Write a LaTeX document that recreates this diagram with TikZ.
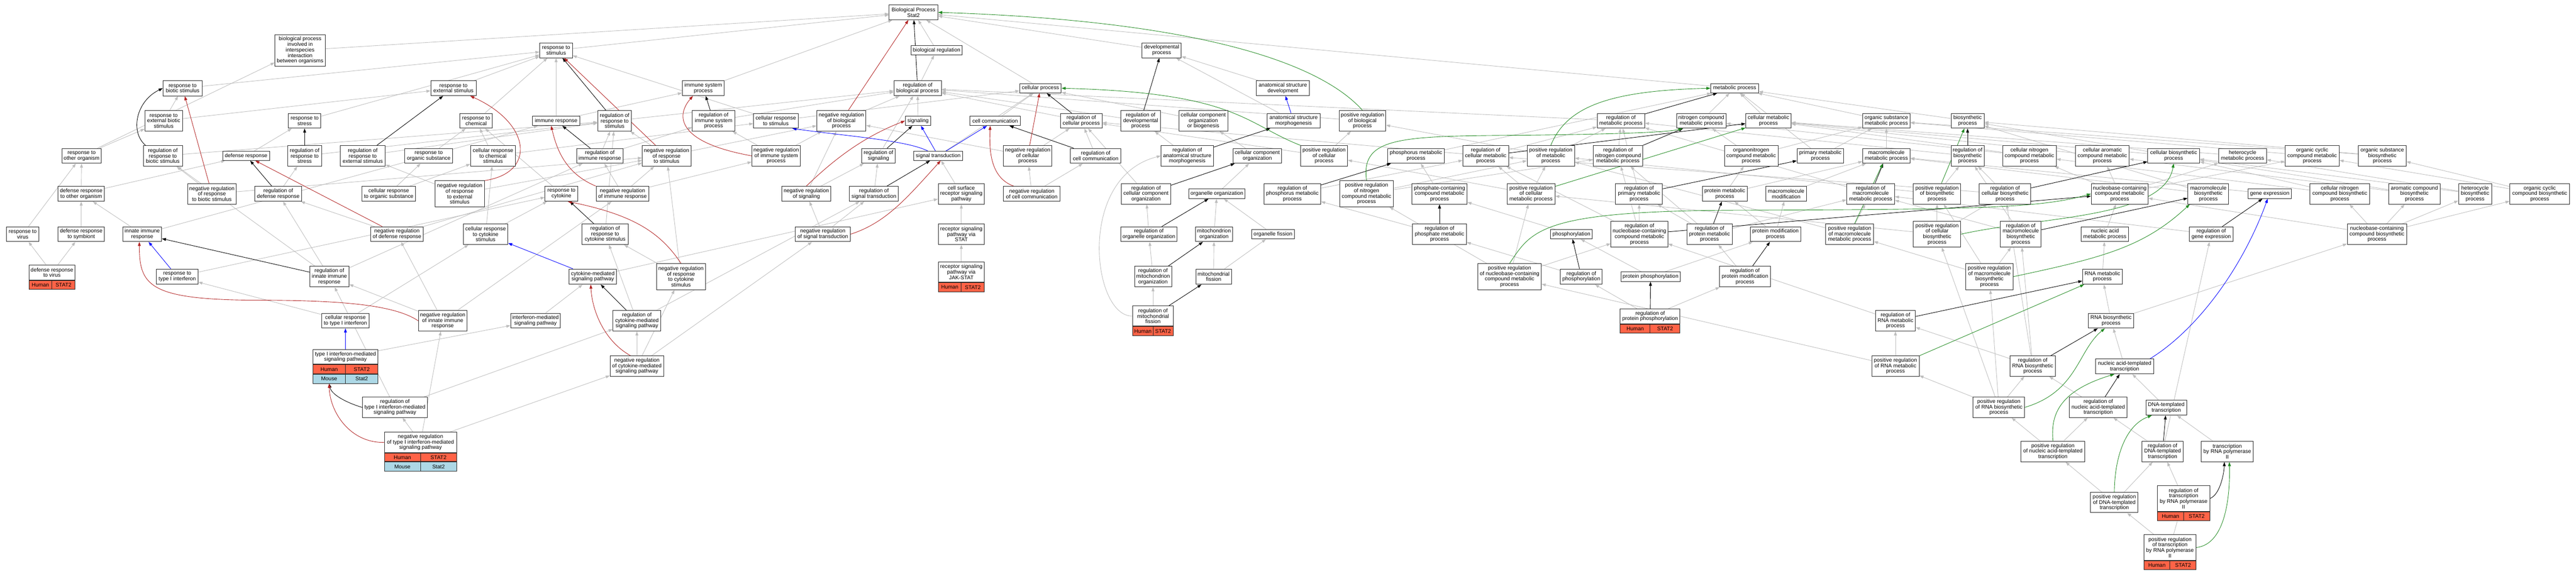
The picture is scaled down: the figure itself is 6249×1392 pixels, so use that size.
\documentclass[tikz,border=0pt]{standalone}
\usepackage{fontspec}
\setmainfont{Liberation Sans}
\usetikzlibrary{arrows.meta}
\definecolor{edgegray}{RGB}{190,190,190}
\definecolor{negred}{RGB}{178,34,34}
\definecolor{posgreen}{RGB}{34,139,34}
\definecolor{partblue}{RGB}{0,0,255}
\definecolor{tomatoc}{RGB}{255,99,71}
\definecolor{lblue}{RGB}{173,216,230}
\pgfdeclarelayer{bg}
\pgfsetlayers{bg,main}
\newcommand\gofont{\fontsize{13}{13.4}\selectfont}
\tikzset{
 gobox/.style={draw=black!85,line width=1.2pt,fill=white,align=center,font=\gofont,inner sep=2pt},
 gocell/.style={draw=black!85,line width=1.2pt,align=center,font=\gofont,inner sep=1pt},
 tipstyle/.style={-{Triangle[length=10pt,width=7pt]}},
 isa/.style={draw=edgegray,line width=1.1pt,tipstyle},
 regl/.style={draw=black,line width=1.1pt,tipstyle},
 negl/.style={draw=negred,line width=1.1pt,tipstyle},
 posl/.style={draw=posgreen,line width=1.1pt,tipstyle},
 partl/.style={draw=partblue,line width=1.1pt,tipstyle}
}
\newcommand\GN[6]{\node[gobox,minimum width=#4pt,minimum height=#5pt] (#1) at (#2,#3) {#6};}
\newcommand\GRow[8]{%
 \node[gocell,fill=#6,minimum width=#4pt,minimum height=#5pt,anchor=north west] (#3a) at (#1.south west) {#7};%
 \node[gocell,fill=#6,minimum width=#4pt,minimum height=#5pt,anchor=north east] (#3b) at (#2.south east) {#8};}
\begin{document}
\begin{tikzpicture}[x=1pt,y=-1pt]
\begin{pgfonlayer}{bg}
\fill[white] (0,0) rectangle (6249,1392);
\end{pgfonlayer}
\useasboundingbox (0,0) rectangle (6249,1392);
% row 30
\GN{root}{2216}{30}{118}{36}{Biological Process\\Stat2}
% row 122
\GN{bpint}{728}{122}{122}{76}{biological process\\involved in\\interspecies\\interaction\\between organisms}
\GN{rstim}{1349}{122}{79}{36}{response to\\stimulus}
\GN{bioreg}{2272}{122}{124}{23}{biological regulation}
\GN{devproc}{2818}{122}{95}{36}{developmental\\process}
% row 214
\GN{rbs}{443}{214}{95}{37}{response to\\biotic stimulus}
\GN{rext}{1100}{214}{110}{36}{response to\\external stimulus}
\GN{immsys}{1706}{214}{102}{36}{immune system\\process}
\GN{rbp}{2226}{214}{115}{36}{regulation of\\biological process}
\GN{cellproc}{2524}{214}{101}{23}{cellular process}
\GN{anatdev}{3112}{214}{128}{36}{anatomical structure\\development}
\GN{metproc}{4208}{214}{116}{23}{metabolic process}
% row 293
\GN{rebs}{397}{293}{91}{50}{response to\\external biotic\\stimulus}
\GN{rstress}{739}{293}{79}{36}{response to\\stress}
\GN{rchem}{1155}{293}{79}{36}{response to\\chemical}
\GN{immresp}{1349}{293}{114}{23}{immune response}
\GN{rrstim}{1491}{293}{82}{50}{regulation of\\response to\\stimulus}
\GN{rimmsys}{1731}{293}{103}{50}{regulation of\\immune system\\process}
\GN{crstim}{1882}{293}{108}{36}{cellular response\\to stimulus}
\GN{nrbp}{2041}{293}{119}{50}{negative regulation\\of biological\\process}
\GN{signaling}{2227}{293}{62}{23}{signaling}
\GN{cellcomm}{2414}{293}{123}{23}{cell communication}
\GN{rcp}{2623}{293}{101}{36}{regulation of\\cellular process}
\GN{rdev}{2767}{293}{95}{50}{regulation of\\developmental\\process}
\GN{ccob}{2919}{293}{119}{50}{cellular component\\organization\\or biogenesis}
\GN{asm}{3138}{293}{128}{36}{anatomical structure\\morphogenesis}
\GN{prbp}{3305}{293}{113}{50}{positive regulation\\of biological\\process}
\GN{rmp}{3932}{293}{115}{36}{regulation of\\metabolic process}
\GN{ncmp}{4127}{293}{120}{36}{nitrogen compound\\metabolic process}
\GN{cellmet}{4290}{293}{110}{36}{cellular metabolic\\process}
\GN{osmp}{4576}{293}{115}{36}{organic substance\\metabolic process}
\GN{biosyn}{4773}{293}{80}{36}{biosynthetic\\process}
% row 378
\GN{roo}{198}{378}{96}{36}{response to\\other organism}
\GN{rrbs}{395}{378}{95}{50}{regulation of\\response to\\biotic stimulus}
\GN{defresp}{597}{378}{114}{22}{defense response}
\GN{rrstress}{739}{378}{82}{50}{regulation of\\response to\\stress}
\GN{rrext}{880}{378}{109}{50}{regulation of\\response to\\external stimulus}
\GN{ros}{1040}{378}{117}{36}{response to\\organic substance}
\GN{crchem}{1196}{378}{109}{50}{cellular response\\to chemical\\stimulus}
\GN{rimmresp}{1455}{378}{112}{36}{regulation of\\immune response}
\GN{nrrstim}{1617}{378}{118}{50}{negative regulation\\of response\\to stimulus}
\GN{nrimmsys}{1883}{378}{118}{50}{negative regulation\\of immune system\\process}
\GN{regsig}{2131}{378}{82}{36}{regulation of\\signaling}
\GN{sigtrans}{2276}{378}{119}{22}{signal transduction}
\GN{nrcp}{2493}{378}{118}{50}{negative regulation\\of cellular\\process}
\GN{rcc}{2658}{378}{122}{36}{regulation of\\cell communication}
\GN{rasm}{2880}{378}{127}{50}{regulation of\\anatomical structure\\morphogenesis}
\GN{cco}{3050}{378}{118}{36}{cellular component\\organization}
\GN{prcp}{3212}{378}{114}{50}{positive regulation\\of cellular\\process}
\GN{phosmet}{3435}{378}{137}{36}{phosphorus metabolic\\process}
\GN{rcmp}{3604}{378}{111}{50}{regulation of\\cellular metabolic\\process}
\GN{prmp}{3762}{378}{115}{50}{positive regulation\\of metabolic\\process}
\GN{rncmp}{3925}{378}{120}{50}{regulation of\\nitrogen compound\\metabolic process}
\GN{oncmp}{4248}{378}{130}{50}{organonitrogen\\compound metabolic\\process}
\GN{primmet}{4416}{378}{113}{36}{primary metabolic\\process}
\GN{macromet}{4576}{378}{115}{36}{macromolecule\\metabolic process}
\GN{rbiosyn}{4773}{378}{80}{50}{regulation of\\biosynthetic\\process}
\GN{cncmp}{4923}{378}{130}{50}{cellular nitrogen\\compound metabolic\\process}
\GN{cacmp}{5100}{378}{130}{50}{cellular aromatic\\compound metabolic\\process}
\GN{cellbiosyn}{5273}{378}{126}{36}{cellular biosynthetic\\process}
\GN{hetmet}{5440}{378}{116}{36}{heterocycle\\metabolic process}
\GN{occmp}{5609}{378}{131}{50}{organic cyclic\\compound metabolic\\process}
\GN{osbio}{5779}{378}{116}{50}{organic substance\\biosynthetic\\process}
% row 470
\GN{droo}{197}{470}{113}{36}{defense response\\to other organism}
\GN{nrrbs}{514}{470}{118}{50}{negative regulation\\of response\\to biotic stimulus}
\GN{rdr}{675}{470}{113}{36}{regulation of\\defense response}
\GN{cros}{943}{470}{130}{36}{cellular response\\to organic substance}
\GN{nrrext}{1115}{470}{120}{63}{negative regulation\\of response\\to external\\stimulus}
\GN{rcyt}{1362}{470}{80}{36}{response to\\cytokine}
\GN{nrimmresp}{1510}{470}{128}{36}{negative regulation\\of immune response}
\GN{nrsig}{1956}{470}{119}{36}{negative regulation\\of signaling}
\GN{rst}{2120}{470}{119}{36}{regulation of\\signal transduction}
\GN{csrsp}{2332}{470}{112}{50}{cell surface\\receptor signaling\\pathway}
\GN{nrcc}{2503}{470}{137}{36}{negative regulation\\of cell communication}
\GN{rcco}{2780}{470}{119}{50}{regulation of\\cellular component\\organization}
\GN{orgorg}{2952}{470}{137}{23}{organelle organization}
\GN{rphosmet}{3135}{470}{138}{50}{regulation of\\phosphorus metabolic\\process}
\GN{prncmp}{3315}{470}{131}{63}{positive regulation\\of nitrogen\\compound metabolic\\process}
\GN{phcmp}{3492}{470}{134}{50}{phosphate-containing\\compound metabolic\\process}
\GN{prcmp}{3714}{470}{116}{50}{positive regulation\\of cellular\\metabolic process}
\GN{rpmp}{3976}{470}{114}{50}{regulation of\\primary metabolic\\process}
\GN{protmet}{4184}{470}{109}{36}{protein metabolic\\process}
\GN{macromod}{4333}{470}{98}{36}{macromolecule\\modification}
\GN{rmacromet}{4538}{470}{116}{50}{regulation of\\macromolecule\\metabolic process}
\GN{prbiosyn}{4699}{470}{115}{50}{positive regulation\\of biosynthetic\\process}
\GN{rcbiosyn}{4864}{470}{125}{50}{regulation of\\cellular biosynthetic\\process}
\GN{nbcmp}{5142}{470}{138}{50}{nucleobase-containing\\compound metabolic\\process}
\GN{macrobio}{5357}{470}{99}{50}{macromolecule\\biosynthetic\\process}
\GN{geneexp}{5506}{470}{105}{23}{gene expression}
\GN{cncbio}{5676}{470}{145}{50}{cellular nitrogen\\compound biosynthetic\\process}
\GN{acbio}{5857}{470}{124}{50}{aromatic compound\\biosynthetic\\process}
\GN{hetbio}{6004}{470}{80}{50}{heterocycle\\biosynthetic\\process}
\GN{occbio}{6161}{470}{145}{50}{organic cyclic\\compound biosynthetic\\process}
% row 568
\GN{rvirus}{55}{568}{79}{36}{response to\\virus}
\GN{drsym}{197}{568}{113}{36}{defense response\\to symbiont}
\GN{innate}{345}{568}{94}{36}{innate immune\\response}
\GN{nrdr}{963}{568}{128}{36}{negative regulation\\of defense response}
\GN{crcyt}{1178}{568}{108}{50}{cellular response\\to cytokine\\stimulus}
\GN{rrcyt}{1468}{568}{112}{50}{regulation of\\response to\\cytokine stimulus}
\GN{nrst}{1996}{568}{134}{36}{negative regulation\\of signal transduction}
\GN{rsstat}{2332}{568}{112}{50}{receptor signaling\\pathway via\\STAT}
\GN{roo2}{2787}{568}{136}{36}{regulation of\\organelle organization}
\GN{mitoorg}{2945}{568}{91}{36}{mitochondrion\\organization}
\GN{orgfis}{3088}{568}{104}{23}{organelle fission}
\GN{rphmp}{3492}{568}{131}{50}{regulation of\\phosphate metabolic\\process}
\GN{phosph}{3812}{568}{101}{23}{phosphorylation}
\GN{rnbcmp}{3977}{568}{138}{63}{regulation of\\nucleobase-containing\\compound metabolic\\process}
\GN{rprotmet}{4147}{568}{110}{50}{regulation of\\protein metabolic\\process}
\GN{protmod}{4307}{568}{123}{36}{protein modification\\process}
\GN{prmacromet}{4487}{568}{116}{50}{positive regulation\\of macromolecule\\metabolic process}
\GN{prcbiosyn}{4699}{568}{115}{63}{positive regulation\\of cellular\\biosynthetic\\process}
\GN{rmacrobio}{4902}{568}{99}{63}{regulation of\\macromolecule\\biosynthetic\\process}
\GN{nucmet}{5106}{568}{116}{36}{nucleic acid\\metabolic process}
\GN{rgeneexp}{5364}{568}{106}{36}{regulation of\\gene expression}
\GN{nbcbio}{5766}{568}{144}{50}{nucleobase-containing\\compound biosynthetic\\process}
% row 671
\GN{rtype1}{430}{671}{101}{37}{response to\\type I interferon}
\GN{rinnate}{799}{671}{95}{50}{regulation of\\innate immune\\response}
\GN{cytsp}{1438}{671}{115}{37}{cytokine-mediated\\signaling pathway}
\GN{nrrcyt}{1652}{671}{119}{63}{negative regulation\\of response\\to cytokine\\stimulus}
\GN{rmito}{2797}{671}{90}{50}{regulation of\\mitochondrion\\organization}
\GN{mitofis}{2944}{671}{86}{37}{mitochondrial\\fission}
\GN{prnbcmp}{3662}{671}{154}{63}{positive regulation\\of nucleobase-containing\\compound metabolic\\process}
\GN{rphos}{3836}{671}{101}{37}{regulation of\\phosphorylation}
\GN{protphos}{4004}{671}{144}{23}{protein phosphorylation}
\GN{rprotmod}{4233}{671}{123}{50}{regulation of\\protein modification\\process}
\GN{prmacrobio}{4826}{671}{115}{63}{positive regulation\\of macromolecule\\biosynthetic\\process}
\GN{rnamet}{5100}{671}{96}{37}{RNA metabolic\\process}
% gene boxes
\GN{drvirus}{126}{661}{112}{36}{defense response\\to virus}
\GRow{drvirus}{drvirus}{drvirush}{56}{21}{tomatoc}{Human}{STAT2}
\GN{rsjak}{2332}{659.5}{112}{49}{receptor signaling\\pathway via\\JAK-STAT}
\GRow{rsjak}{rsjak}{rsjakh}{56}{23}{tomatoc}{Human}{STAT2}
% row 778
\GN{crtype1}{838}{778}{116}{36}{cellular response\\to type I interferon}
\GN{nrinnate}{1074}{778}{118}{50}{negative regulation\\of innate immune\\response}
\GN{ifnsp}{1299}{778}{120}{36}{interferon-mediated\\signaling pathway}
\GN{rcytsp}{1545}{778}{116}{50}{regulation of\\cytokine-mediated\\signaling pathway}
\GN{rrnamet}{4598}{778}{97}{50}{regulation of\\RNA metabolic\\process}
\GN{rnabio}{5121}{778}{110}{36}{RNA biosynthetic\\process}
\GN{rmitofis}{2797}{766.5}{98}{49}{regulation of\\mitochondrial\\fission}
\GRow{rmitofis}{rmitofis}{rmitofish}{49}{22}{tomatoc}{Human}{STAT2}
\GN{rprotphos}{4003}{767}{145}{36}{regulation of\\protein phosphorylation}
\GRow{rprotphos}{rprotphos}{rprotphosh}{72.5}{21.5}{tomatoc}{Human}{STAT2}
% row 888
\GN{nrcytsp}{1545}{888}{130}{49}{negative regulation\\of cytokine-mediated\\signaling pathway}
\GN{prrnamet}{4598}{888}{115}{49}{positive regulation\\of RNA metabolic\\process}
\GN{rrnabio}{4931}{888}{110}{49}{regulation of\\RNA biosynthetic\\process}
\GN{natrans}{5154}{889}{141}{36}{nucleic acid-templated\\transcription}
\GN{type1}{838}{866}{158}{35}{type I interferon-mediated\\signaling pathway}
\GRow{type1}{type1}{type1h}{79}{22}{tomatoc}{Human}{STAT2}
\GRow{type1ha}{type1hb}{type1m}{79}{22}{lblue}{Mouse}{Stat2}
% row 988
\GN{rtype1sp}{958}{988}{158}{49}{regulation of\\type I interferon-mediated\\signaling pathway}
\GN{prrnabio}{4849}{988}{125}{49}{positive regulation\\of RNA biosynthetic\\process}
\GN{rnatrans}{5090}{988}{140}{49}{regulation of\\nucleic acid-templated\\transcription}
\GN{dnatrans}{5255}{989}{99}{36}{DNA-templated\\transcription}
\GN{nrtype1}{1020}{1073}{175}{49}{negative regulation\\of type I interferon-mediated\\signaling pathway}
\GRow{nrtype1}{nrtype1}{nrtype1h}{87.5}{21}{tomatoc}{Human}{STAT2}
\GRow{nrtype1ha}{nrtype1hb}{nrtype1m}{87.5}{21.5}{lblue}{Mouse}{Stat2}
% row 1095
\GN{prnatrans}{4980}{1095}{155}{50}{positive regulation\\of nucleic acid-templated\\transcription}
\GN{rdnatrans}{5246}{1095}{99}{50}{regulation of\\DNA-templated\\transcription}
\GN{trnap}{5403}{1095}{126}{50}{transcription\\by RNA polymerase\\II}
\GN{prdnatrans}{5129}{1219}{115}{49}{positive regulation\\of DNA-templated\\transcription}
\GN{rtrnap}{5297}{1209}{127}{63}{regulation of\\transcription\\by RNA polymerase\\II}
\GRow{rtrnap}{rtrnap}{rtrnaph}{63.5}{21}{tomatoc}{Human}{STAT2}
\GN{prtrnap}{5264}{1328}{127}{63}{positive regulation\\of transcription\\by RNA polymerase\\II}
\GRow{prtrnap}{prtrnap}{prtrnaph}{63.5}{21.5}{tomatoc}{Human}{STAT2}

\begin{pgfonlayer}{bg}
\foreach \a/\b in {bpint/root, rbs/rstim, rebs/rbs, rebs/rext, rstress/rstim, roo/bpint, roo/rebs,
 rrbs/rrstim, defresp/rstress, rrstress/rrstim, rrext/rrstim, ros/rchem, droo/roo, droo/defresp,
 nrrbs/rrbs, nrrbs/nrrstim, rdr/rrstress, cros/ros, cros/crchem, rvirus/roo, drsym/droo,
 innate/droo, innate/immresp, nrdr/rdr, nrdr/nrrstim, drvirus/rvirus, drvirus/drsym, rtype1/rcyt,
 rinnate/rdr, rinnate/rimmresp, rinnate/rrbs, crtype1/rtype1, crtype1/crcyt, type1/ifnsp,
 rtype1sp/rcytsp, rtype1sp/rinnate, nrtype1/rtype1sp, nrtype1/nrcytsp, nrtype1/nrinnate,
 nrinnate/rinnate, nrinnate/nrdr, nrinnate/nrimmresp, rstim/root, rext/rstim, immsys/root,
 rchem/rstim, immresp/rstim, immresp/immsys, rrstim/rbp, rimmsys/rbp, crstim/rstim, crstim/cellproc,
 nrbp/rbp, crchem/rchem, crchem/crstim, rimmresp/rrstim, rimmresp/rimmsys, nrrstim/rrstim,
 nrrstim/nrbp, nrimmsys/rimmsys, nrimmsys/nrbp, nrrext/rrext, nrrext/nrrstim, rcyt/rchem,
 nrimmresp/rimmresp, nrimmresp/nrrstim, nrimmresp/nrimmsys, nrsig/regsig, nrsig/nrbp, rst/regsig,
 nrst/rst, nrst/nrsig, crcyt/rcyt, crcyt/crchem, rrcyt/rrstim, cytsp/csrsp, nrrcyt/rrcyt,
 nrrcyt/nrrstim, ifnsp/cytsp, rcytsp/rrcyt, rcytsp/rst, nrcytsp/rcytsp, nrcytsp/nrrcyt, nrcytsp/nrst,
 bioreg/root, devproc/root, rbp/bioreg, cellproc/root, anatdev/devproc, regsig/rbp, signaling/rbp,
 cellcomm/cellproc, rcp/rbp, rdev/rbp, ccob/cellproc, asm/devproc, sigtrans/cellproc, nrcp/rcp,
 nrcp/nrbp, rcc/rcp, rasm/rdev, cco/ccob, csrsp/sigtrans, nrcc/rcc, nrcc/nrcp, rcco/rcp,
 orgorg/cco, rphosmet/rcmp, rsstat/csrsp, roo2/rcco, mitoorg/orgorg, orgfis/orgorg, rsjak/rsstat,
 rmito/roo2, mitofis/mitoorg, mitofis/orgfis, rmitofis/rmito, prbp/rbp, rmp/rbp,
 ncmp/metproc, metproc/root, prcp/rcp, prcp/prbp, phosmet/metproc, rcmp/rmp, rcmp/rcp, prmp/rmp,
 prmp/prbp, rncmp/rmp, prncmp/rncmp, prncmp/prmp, phcmp/phosmet, prcmp/rcmp, prcmp/prmp,
 prcmp/prcp, rpmp/rmp, protmet/oncmp, protmet/macromet, rphmp/rphosmet, phosph/phcmp,
 rnbcmp/rcmp, rnbcmp/rpmp, rnbcmp/rncmp, rprotmet/rpmp, rprotmet/rmacromet, rprotmet/rncmp,
 prnbcmp/rnbcmp, prnbcmp/prcmp, prnbcmp/prncmp, rphos/rphmp, protphos/phosph, protphos/protmod,
 rprotphos/rphos, rprotphos/rprotmod, cellmet/metproc, osmp/metproc, biosyn/metproc, oncmp/ncmp,
 oncmp/osmp, primmet/metproc, primmet/osmp, macromet/osmp, rbiosyn/rmp, cncmp/cellmet, cncmp/ncmp,
 cacmp/cellmet, macromod/macromet, rmacromet/rmp, prbiosyn/rbiosyn, prbiosyn/prmp,
 rcbiosyn/rbiosyn, rcbiosyn/rcmp, nbcmp/cacmp, nbcmp/hetmet, nbcmp/occmp, nbcmp/cncmp,
 protmod/protmet, protmod/macromod, prmacromet/rmacromet, prmacromet/prmp, prcbiosyn/prbiosyn,
 prcbiosyn/rcbiosyn, prcbiosyn/prcmp, rmacrobio/rmacromet, rmacrobio/rbiosyn, nucmet/nbcmp,
 rprotmod/rprotmet, prmacrobio/prmacromet, prmacrobio/prbiosyn, prmacrobio/rmacrobio,
 rnamet/nucmet, rrnamet/rnbcmp, rnabio/rnamet, rnabio/nbcbio, prrnamet/rrnamet, prrnamet/prnbcmp,
 rrnabio/rrnamet, rrnabio/rmacrobio, rrnabio/rcbiosyn, natrans/rnabio, prrnabio/rrnabio,
 prrnabio/prrnamet, prrnabio/prmacrobio, prrnabio/prcbiosyn, rnatrans/rrnabio, dnatrans/natrans,
 prnatrans/prrnabio, prnatrans/rnatrans, rdnatrans/rnatrans, rdnatrans/rgeneexp, trnap/dnatrans,
 prdnatrans/prnatrans, prdnatrans/rdnatrans, rtrnap/rdnatrans, prtrnap/rtrnap, prtrnap/prdnatrans,
 cellbiosyn/biosyn, cellbiosyn/cellmet, hetmet/cellmet, occmp/osmp, osbio/biosyn, osbio/osmp,
 macrobio/macromet, macrobio/biosyn, geneexp/macromet, cncbio/cncmp, cncbio/cellbiosyn,
 acbio/cacmp, acbio/cellbiosyn, hetbio/hetmet, hetbio/cellbiosyn, occbio/occmp, occbio/osbio,
 rgeneexp/rmacromet, nbcbio/cncbio, nbcbio/acbio, nbcbio/hetbio, nbcbio/occbio, nbcbio/nbcmp}
 \draw[isa] (\a) -- (\b);
\draw[isa] (rmitofis.west) .. controls (2650,770) and (2610,430) .. (rasm.west);
% regulates (black)
\foreach \a/\b in {rrstress/rstress, rdr/defresp, rrext/rext, rinnate/innate,
 rrstim/rstim, rimmsys/immsys, rimmresp/immresp, rrcyt/rcyt, rcytsp/cytsp,
 rbp/root, regsig/signaling, rst/sigtrans, rcc/cellcomm, rcp/cellproc, rdev/devproc, rasm/asm,
 rcco/cco, roo2/orgorg, rmito/mitoorg, rmitofis/mitofis, rphosmet/phosmet, rmp/metproc,
 rncmp/ncmp, rcmp/cellmet, rpmp/primmet, rnbcmp/nbcmp, rprotmet/protmet, rphmp/phcmp,
 rphos/phosph, rprotphos/protphos, rprotmod/protmod, rmacromet/macromet, rbiosyn/biosyn,
 rcbiosyn/cellbiosyn, rmacrobio/macrobio, rrnamet/rnamet, rrnabio/rnabio, rnatrans/natrans,
 rgeneexp/geneexp, rdnatrans/dnatrans}
 \draw[regl] (\a) -- (\b);
\draw[regl] ([xshift=6pt]rrbs.north west) .. controls (315,320) and (330,245) .. (rbs.west);
\draw[regl] (rtype1sp.west) .. controls (850,980) and (805,960) .. (type1ma.south);
\draw[regl] (rtrnap.east) .. controls (5385,1200) and (5395,1150) .. ([xshift=-7pt]trnap.south);
% negatively regulates (red)
\foreach \a/\b in {nrrbs/rbs, nrdr/defresp, nrrstim/rstim, nrbp/root, nrcp/cellproc}
 \draw[negl] (\a) -- (\b);
\draw[negl] (nrinnate.west) .. controls (950,735) and (800,728) .. (600,728) .. controls (360,725) and (338,690) .. ([xshift=-7pt]innate.south);
\draw[negl] (nrtype1.west) .. controls (850,1075) and (800,1000) .. (type1ma.south);
\draw[negl] (nrimmsys.west) .. controls (1640,345) and (1640,280) .. ([xshift=-25pt]immsys.south);
\draw[negl] (nrrext.north east) .. controls (1300,420) and (1290,300) .. ([xshift=-15pt]rext.south east);
\draw[negl] (nrimmresp.north west) .. controls (1370,420) and (1350,360) .. ([xshift=-12pt]immresp.south);
\draw[negl] (nrrcyt.north) .. controls (1600,560) and (1530,520) .. ([xshift=15pt]rcyt.south);
\draw[negl] (nrst.east) .. controls (2150,540) and (2200,480) .. ([xshift=6pt]sigtrans.south);
\draw[negl] (nrsig.north) .. controls (2030,380) and (2100,330) .. (signaling.west);
\draw[negl] ([xshift=25pt]nrcc.north west) .. controls (2400,430) and (2400,360) .. ([xshift=-12pt]cellcomm.south);
\draw[negl] ([xshift=-15pt]nrcytsp.north) .. controls (1470,830) and (1437,760) .. ([xshift=-5pt]cytsp.south);
% positively regulates (green)
\foreach \a/\b in {prcmp/cellmet, prbiosyn/biosyn, prmacromet/macromet, prrnamet/rnamet}
 \draw[posl] (\a) -- (\b);
\draw[posl] (prbp.north) .. controls (3200,150) and (2900,50) .. (root.east);
\draw[posl] (prcp.north west) .. controls (3020,300) and (3000,225) .. (cellproc.east);
\draw[posl] (prncmp.north) .. controls (3300,330) and (3400,330) .. (3700,328) .. controls (3950,325) and (4050,320) .. ([xshift=15pt]ncmp.south west);
\draw[posl] (prmp.north) .. controls (3800,260) and (3900,220) .. (metproc.west);
\draw[posl] (prnbcmp.north) .. controls (3715,560) and (3735,512) .. (4200,510) .. controls (4800,508) and (4950,505) .. (nbcmp.west);
\draw[posl] (prcbiosyn.east) .. controls (4950,525) and (5250,530) .. (cellbiosyn.south);
\draw[posl] (prmacrobio.east) .. controls (5100,625) and (5200,600) .. ([xshift=5pt]macrobio.south west);
\draw[posl] (prrnabio.east) .. controls (5040,950) and (5040,850) .. ([xshift=-15pt]rnabio.south);
\draw[posl] (prnatrans.north) .. controls (4975,1010) and (4990,950) .. ([xshift=-25pt]natrans.south);
\draw[posl] (prdnatrans.north) .. controls (5130,1100) and (5160,1030) .. ([xshift=-35pt]dnatrans.south);
\draw[posl] (prtrnap.east) .. controls (5400,1320) and (5410,1200) .. ([xshift=5pt]trnap.south);
% part of (blue)
\foreach \a/\b in {rtype1/innate, type1/crtype1, cytsp/crcyt, sigtrans/signaling,
 sigtrans/cellcomm, asm/anatdev}
 \draw[partl] (\a) -- (\b);
\draw[partl] ([xshift=-25pt]sigtrans.north) .. controls (2200,340) and (2050,330) .. ([xshift=40pt]crstim.south);
\draw[partl] ([xshift=-10pt]natrans.north east) .. controls (5330,800) and (5440,650) .. ([xshift=-5pt]geneexp.south);
\end{pgfonlayer}
\end{tikzpicture}
\end{document}
